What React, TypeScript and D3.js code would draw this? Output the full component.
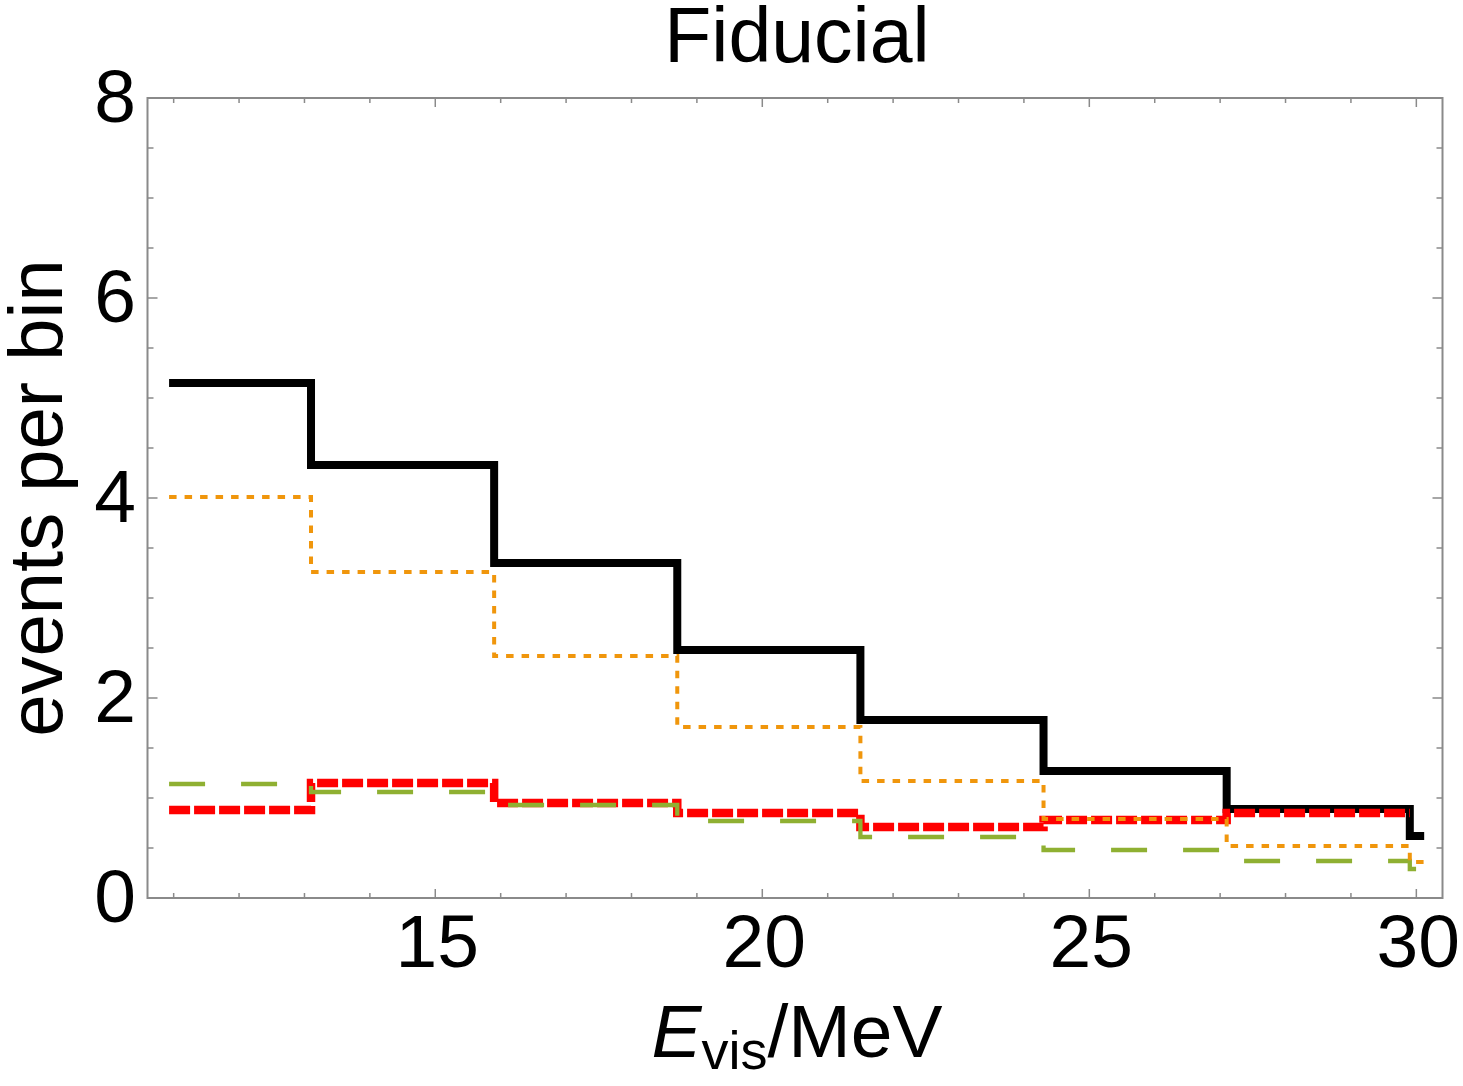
import React from "react";
import * as d3 from "d3";

// bin edges in MeV (last short piece runs past the final full bin)
const binEdges = [10.93, 13.1, 15.9, 18.7, 21.5, 24.3, 27.1, 29.9, 30.12];

// events per bin for each curve
const totalEvents = [5.15, 4.33, 3.35, 2.48, 1.78, 1.27, 0.89, 0.62];
const orangeEvents = [4.01, 3.26, 2.42, 1.71, 1.17, 0.79, 0.52, 0.36];
const redEvents = [0.88, 1.15, 0.95, 0.85, 0.71, 0.78, 0.85];
const greenEvents = [1.14, 1.06, 0.93, 0.77, 0.61, 0.48, 0.37, 0.29];

const xMajorTicks = [15, 20, 25, 30];
const xMinorTicks = d3.range(11, 31);
const yMajorTicks = [0, 2, 4, 6, 8];
const yMinorTicks = d3.range(0, 8.01, 0.5);

const W = 1463;
const H = 1086;
const frame = { left: 147.5, right: 1442.5, top: 98, bottom: 898 };
const font = "'Liberation Sans', Arial, Helvetica, sans-serif";
const axisColor = "#8a8a8a";

const x = d3.scaleLinear().domain([10.6, 30.4]).range([frame.left, frame.right]);
const y = d3.scaleLinear().domain([0, 8]).range([frame.bottom, frame.top]);

const stepLine = d3
  .line<[number, number]>()
  .x((d) => x(d[0]))
  .y((d) => y(d[1]))
  .curve(d3.curveStepAfter);

function stepPath(values: number[]) {
  const pts: [number, number][] = values.map((v, i) => [binEdges[i], v]);
  pts.push([binEdges[values.length], values[values.length - 1]]);
  return stepLine(pts) || "";
}

const series = [
  { name: "total", values: totalEvents, color: "#000000", width: 8, dash: "none" },
  { name: "red", values: redEvents, color: "#ff0000", width: 8.5, dash: "21 4" },
  { name: "green", values: greenEvents, color: "#8fb032", width: 4.3, dash: "36 36" },
  { name: "orange", values: orangeEvents, color: "#f0960c", width: 4, dash: "7.5 8" },
];

export default function App() {
  return (
    <svg
      width={W}
      height={H}
      style={{ position: "absolute", left: 0, top: 0, background: "#fff" }}
      fontFamily={font}
    >
      <text x={797} y={62} fontSize={77} textAnchor="middle" fill="#000">
        Fiducial
      </text>

      {/* ticks on all four sides, pointing inward */}
      <g stroke={axisColor} strokeWidth={1.5}>
        {xMinorTicks.map((t) => {
          const len = xMajorTicks.includes(t) ? 9 : 5;
          return (
            <g key={"xt" + t}>
              <line x1={x(t)} x2={x(t)} y1={frame.bottom} y2={frame.bottom - len} />
              <line x1={x(t)} x2={x(t)} y1={frame.top} y2={frame.top + len} />
            </g>
          );
        })}
        {yMinorTicks.map((t) => {
          const len = yMajorTicks.includes(t) ? 10 : 6;
          return (
            <g key={"yt" + t}>
              <line x1={frame.left} x2={frame.left + len} y1={y(t)} y2={y(t)} />
              <line x1={frame.right} x2={frame.right - len} y1={y(t)} y2={y(t)} />
            </g>
          );
        })}
      </g>

      <rect
        x={frame.left}
        y={frame.top}
        width={frame.right - frame.left}
        height={frame.bottom - frame.top}
        fill="none"
        stroke={axisColor}
        strokeWidth={2}
      />

      {xMajorTicks.map((t) => (
        <text key={"xl" + t} x={x(t) + 2} y={967} fontSize={75} textAnchor="middle" fill="#000">
          {t}
        </text>
      ))}
      {yMajorTicks.map((t) => (
        <text key={"yl" + t} x={136} y={y(t) + 24} fontSize={75} textAnchor="end" fill="#000">
          {t}
        </text>
      ))}

      {series.map((s) => (
        <path
          key={s.name}
          d={stepPath(s.values)}
          fill="none"
          stroke={s.color}
          strokeWidth={s.width}
          strokeDasharray={s.dash}
          strokeLinejoin="miter"
        />
      ))}

      <text
        transform="translate(62,498) rotate(-90)"
        fontSize={76}
        textAnchor="middle"
        fill="#000"
      >
        events per bin
      </text>

      <text x={797} y={1057} fontSize={75} textAnchor="middle" fill="#000">
        <tspan fontStyle="italic">E</tspan>
        <tspan fontSize={54} dy={12}>vis</tspan>
        <tspan dy={-12}>/MeV</tspan>
      </text>
    </svg>
  );
}
